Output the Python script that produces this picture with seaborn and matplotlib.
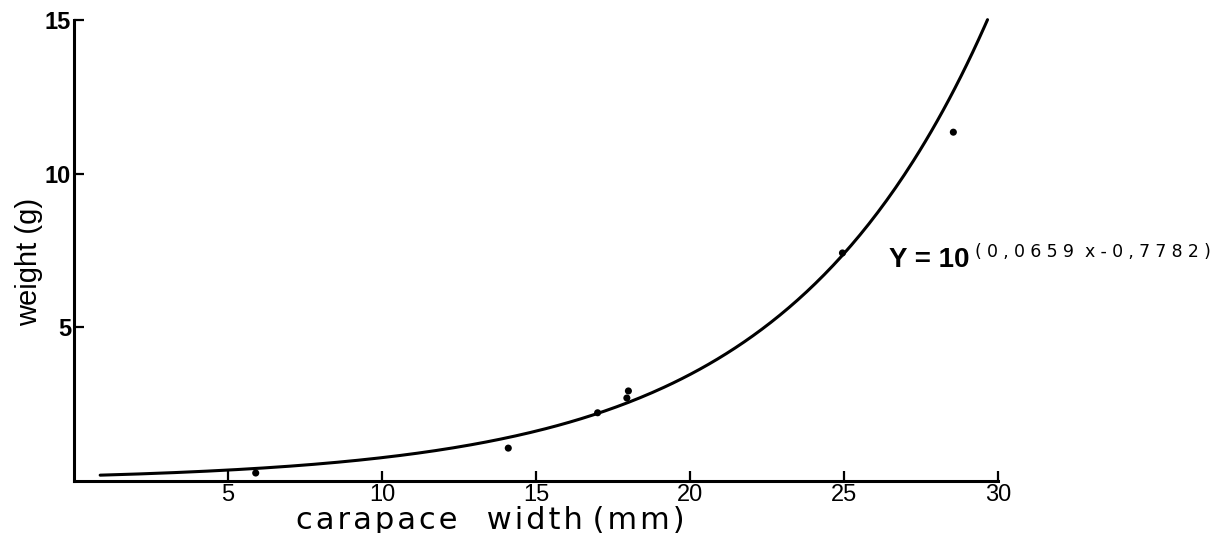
import numpy as np
import pandas as pd
import matplotlib
matplotlib.use("Agg")
import matplotlib.pyplot as plt
import seaborn as sns

# measured crabs: carapace width (mm) and weight (g)
width_mm = [5.9, 14.1, 17.0, 17.95, 18.0, 24.95, 28.55]
weight_g = [0.26, 1.07, 2.22, 2.70, 2.93, 7.42, 11.35]

# fitted power curve  Y = 10^(a*x + b)
coef_a = 0.0659
coef_b = -0.7782
curve_start = 0.85
curve_end = 29.66

x_ticks = [5, 10, 15, 20, 25, 30]
y_ticks = [5, 10, 15]

sns.set_theme(style="white")
plt.rcParams["font.family"] = ["Liberation Sans", "DejaVu Sans"]
plt.rcParams["font.stretch"] = "normal"
plt.rcParams["text.color"] = "black"
plt.rcParams["axes.labelcolor"] = "black"
SANS = ["Liberation Sans", "DejaVu Sans"]


def spaced(words, gap, word_gaps):
    """Letter-space each word and join them with the given separators."""
    parts = [gap.join(w) for w in words]
    out = parts[0]
    for sep, part in zip(word_gaps, parts[1:]):
        out += sep + part
    return out


fig = plt.figure(figsize=(12.32, 5.33), dpi=100)
ax = fig.add_axes([74 / 1232, 52 / 533, (998 - 74) / 1232, (481 - 20) / 533])

cx = np.linspace(curve_start, curve_end, 300)
curve = pd.DataFrame({"x": cx, "y": 10 ** (coef_a * cx + coef_b)})
pts = pd.DataFrame({"x": width_mm, "y": weight_g})

sns.lineplot(data=curve, x="x", y="y", ax=ax, color="black", linewidth=2.2,
             clip_on=False)
sns.scatterplot(data=pts, x="x", y="y", ax=ax, color="black", s=26,
                edgecolor="none", clip_on=False, zorder=3)

ax.set_xlim(0, 30)
ax.set_ylim(0, 15)
ax.set_xticks(x_ticks)
ax.set_yticks(y_ticks)
ax.set_xticklabels([str(t) for t in x_ticks], fontsize=17, color="black",
                   family=SANS)
ax.set_yticklabels([str(t) for t in y_ticks], fontsize=17, fontweight="bold",
                   color="black", family=SANS)
ax.tick_params(axis="both", direction="in", length=7, width=1.6,
               colors="black", bottom=True, left=True)
ax.tick_params(axis="x", pad=2)
ax.tick_params(axis="y", pad=2)

for side in ("top", "right"):
    ax.spines[side].set_visible(False)
for side in ("left", "bottom"):
    ax.spines[side].set_color("black")
    ax.spines[side].set_linewidth(2.2)

xlabel = spaced(["carapace", "width", "(mm)"], "\u200a", ["   ", " "])
ax.set_xlabel(xlabel, fontsize=22, family="DejaVu Sans", color="black")
ax.xaxis.set_label_coords(0.451, -0.1035, transform=ax.transAxes)
ax.xaxis.label.set_va("baseline")
ax.set_ylabel("weight (g)", fontsize=21, color="black", family=SANS)
ax.yaxis.set_label_coords(-0.033, 0.475)

ax.text(26.47, 6.97, "Y = 10", fontsize=20, fontweight="bold", va="baseline",
        ha="left", family=SANS)
# exponent set with thin + hair spaces between the characters
gap = "\u2009\u200a"
exponent = gap.join("(0,0659") + "  x" + gap + "-" + gap + "0" + gap + "," + \
    gap + gap.join("7782") + gap + ")"
ax.text(29.24, 7.3, exponent, fontsize=12.5, family="DejaVu Sans",
        va="baseline", ha="left", clip_on=False)

fig.savefig("out.png", dpi=100, facecolor="white")
